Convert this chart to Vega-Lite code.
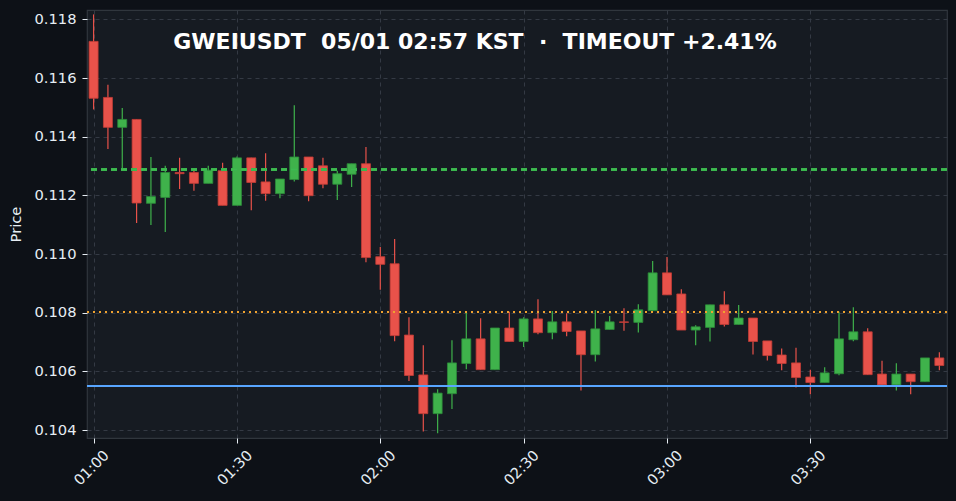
{
  "$schema": "https://vega.github.io/schema/vega-lite/v6.json",
  "width": 860,
  "height": 428,
  "autosize": {"type": "none"},
  "padding": {"left": 87, "top": 10, "right": 9, "bottom": 63},
  "background": "#0d1117",
  "config": {
    "view": {"fill": "#161b22", "stroke": "#30363d", "strokeWidth": 1.2},
    "font": "DejaVu Sans",
    "axis": {
      "labelFont": "DejaVu Sans",
      "labelFontSize": 14.7,
      "labelColor": "#e6edf3",
      "titleFont": "DejaVu Sans",
      "titleFontSize": 14.7,
      "titleFontWeight": "normal",
      "titleColor": "#e6edf3",
      "tickColor": "#e6edf3",
      "tickSize": 5,
      "domain": false,
      "grid": true,
      "gridColor": "#343a44",
      "gridDash": [4, 4],
      "gridWidth": 1
    }
  },
  "title": {
    "text": "GWEIUSDT \u00a005/01 02:57 KST \u00a0·\u00a0 TIMEOUT +2.41%",
    "font": "DejaVu Sans",
    "fontSize": 22,
    "fontWeight": "bold",
    "color": "#ffffff",
    "anchor": "middle",
    "frame": "group",
    "baseline": "top",
    "offset": -44,
    "dx": -42
  },
  "data": {
    "values": [
      {"min": 0, "open": 0.11725, "close": 0.11531, "high": 0.11817, "low": 0.11493},
      {"min": 3, "open": 0.11534, "close": 0.11432, "high": 0.11577, "low": 0.11358},
      {"min": 6, "open": 0.11432, "close": 0.11459, "high": 0.11498, "low": 0.11288},
      {"min": 9, "open": 0.11459, "close": 0.11174, "high": 0.11459, "low": 0.11106},
      {"min": 12, "open": 0.11173, "close": 0.11196, "high": 0.11331, "low": 0.11099},
      {"min": 15, "open": 0.11193, "close": 0.11278, "high": 0.11301, "low": 0.11075},
      {"min": 18, "open": 0.11278, "close": 0.11274, "high": 0.11328, "low": 0.11222},
      {"min": 21, "open": 0.11278, "close": 0.11241, "high": 0.11293, "low": 0.11216},
      {"min": 24, "open": 0.11241, "close": 0.11286, "high": 0.11301, "low": 0.11241},
      {"min": 27, "open": 0.11284, "close": 0.11166, "high": 0.11311, "low": 0.11166},
      {"min": 30, "open": 0.11166, "close": 0.11328, "high": 0.11333, "low": 0.11166},
      {"min": 33, "open": 0.11328, "close": 0.11244, "high": 0.11328, "low": 0.11149},
      {"min": 36, "open": 0.11246, "close": 0.11206, "high": 0.11344, "low": 0.11182},
      {"min": 39, "open": 0.11206, "close": 0.11256, "high": 0.11256, "low": 0.1119},
      {"min": 42, "open": 0.11254, "close": 0.11331, "high": 0.11507, "low": 0.11247},
      {"min": 45, "open": 0.11331, "close": 0.11199, "high": 0.11331, "low": 0.1118},
      {"min": 48, "open": 0.11301, "close": 0.11238, "high": 0.11328, "low": 0.11224},
      {"min": 51, "open": 0.11238, "close": 0.11274, "high": 0.11284, "low": 0.11184},
      {"min": 54, "open": 0.11272, "close": 0.11308, "high": 0.11308, "low": 0.11229},
      {"min": 57, "open": 0.11308, "close": 0.10988, "high": 0.11365, "low": 0.10972},
      {"min": 60, "open": 0.10991, "close": 0.10965, "high": 0.11024, "low": 0.10878},
      {"min": 63, "open": 0.10967, "close": 0.10722, "high": 0.11051, "low": 0.10703},
      {"min": 66, "open": 0.10724, "close": 0.10586, "high": 0.10785, "low": 0.10567},
      {"min": 69, "open": 0.10588, "close": 0.10456, "high": 0.10689, "low": 0.10395},
      {"min": 72, "open": 0.10456, "close": 0.10526, "high": 0.10539, "low": 0.10389},
      {"min": 75, "open": 0.10524, "close": 0.10629, "high": 0.10706, "low": 0.10472},
      {"min": 78, "open": 0.10627, "close": 0.10711, "high": 0.10803, "low": 0.10607},
      {"min": 81, "open": 0.10711, "close": 0.10606, "high": 0.10781, "low": 0.10606},
      {"min": 84, "open": 0.10606, "close": 0.10748, "high": 0.10748, "low": 0.10606},
      {"min": 87, "open": 0.10748, "close": 0.10702, "high": 0.10803, "low": 0.10702},
      {"min": 90, "open": 0.10702, "close": 0.10779, "high": 0.10785, "low": 0.10683},
      {"min": 93, "open": 0.10779, "close": 0.10732, "high": 0.10846, "low": 0.10727},
      {"min": 96, "open": 0.10732, "close": 0.10769, "high": 0.10806, "low": 0.1071},
      {"min": 99, "open": 0.10769, "close": 0.10736, "high": 0.10798, "low": 0.1072},
      {"min": 102, "open": 0.10738, "close": 0.10657, "high": 0.10738, "low": 0.10535},
      {"min": 105, "open": 0.10657, "close": 0.10745, "high": 0.10809, "low": 0.10634},
      {"min": 108, "open": 0.10743, "close": 0.10769, "high": 0.10789, "low": 0.10743},
      {"min": 111, "open": 0.10769, "close": 0.10767, "high": 0.10815, "low": 0.10739},
      {"min": 114, "open": 0.10767, "close": 0.1081, "high": 0.10829, "low": 0.10733},
      {"min": 117, "open": 0.10807, "close": 0.10936, "high": 0.10976, "low": 0.10807},
      {"min": 120, "open": 0.10936, "close": 0.10861, "high": 0.1099, "low": 0.10861},
      {"min": 123, "open": 0.10864, "close": 0.10741, "high": 0.1088, "low": 0.10741},
      {"min": 126, "open": 0.10741, "close": 0.10752, "high": 0.10757, "low": 0.10689},
      {"min": 129, "open": 0.1075, "close": 0.10827, "high": 0.10827, "low": 0.10702},
      {"min": 132, "open": 0.10827, "close": 0.1076, "high": 0.10873, "low": 0.10753},
      {"min": 135, "open": 0.1076, "close": 0.10782, "high": 0.10826, "low": 0.1076},
      {"min": 138, "open": 0.10782, "close": 0.10702, "high": 0.10782, "low": 0.10658},
      {"min": 141, "open": 0.10704, "close": 0.10654, "high": 0.10704, "low": 0.10637},
      {"min": 144, "open": 0.10656, "close": 0.10627, "high": 0.10678, "low": 0.10604},
      {"min": 147, "open": 0.10629, "close": 0.10579, "high": 0.10681, "low": 0.10545},
      {"min": 150, "open": 0.10581, "close": 0.10562, "high": 0.10606, "low": 0.10522},
      {"min": 153, "open": 0.10562, "close": 0.10595, "high": 0.10614, "low": 0.10562},
      {"min": 156, "open": 0.10592, "close": 0.10711, "high": 0.10803, "low": 0.10587},
      {"min": 159, "open": 0.10708, "close": 0.10735, "high": 0.10819, "low": 0.10703},
      {"min": 162, "open": 0.10735, "close": 0.10589, "high": 0.10747, "low": 0.10589},
      {"min": 165, "open": 0.10591, "close": 0.10554, "high": 0.10636, "low": 0.10554},
      {"min": 168, "open": 0.10554, "close": 0.10591, "high": 0.10628, "low": 0.10535},
      {"min": 171, "open": 0.10591, "close": 0.10565, "high": 0.10591, "low": 0.10522},
      {"min": 174, "open": 0.10565, "close": 0.10646, "high": 0.10646, "low": 0.10565},
      {"min": 177, "open": 0.10646, "close": 0.1062, "high": 0.10665, "low": 0.10604}
    ]
  },
  "layer": [
    {
      "mark": {"type": "rule", "strokeWidth": 1.2},
      "encoding": {
        "x": {
          "field": "min",
          "type": "quantitative",
          "title": null,
          "scale": {"domain": [-1.38, 178.6], "zero": false, "nice": false, "padding": 0},
          "axis": {
            "values": [0, 30, 60, 90, 120, 150],
            "labelExpr": "format(floor(datum.value / 60) + 1, '02d') + ':' + format(datum.value % 60, '02d')",
            "labelAngle": -45,
            "labelAlign": "center",
            "labelBaseline": "middle",
            "labelPadding": 25,
            "labelOffset": -2
          }
        },
        "y": {
          "field": "low",
          "type": "quantitative",
          "title": "Price",
          "scale": {"domain": [0.10373, 0.11832], "zero": false, "nice": false},
          "axis": {
            "values": [0.104, 0.106, 0.108, 0.11, 0.112, 0.114, 0.116, 0.118],
            "format": ".3f",
            "labelPadding": 6,
            "titlePadding": 10
          }
        },
        "y2": {"field": "high"},
        "color": {
          "condition": {"test": "datum.close >= datum.open", "value": "#3fb24b"},
          "value": "#e8524a"
        }
      }
    },
    {
      "mark": {"type": "bar", "size": 9, "strokeWidth": 0.8},
      "encoding": {
        "x": {"field": "min", "type": "quantitative"},
        "y": {"field": "open", "type": "quantitative"},
        "y2": {"field": "close"},
        "color": {
          "condition": {"test": "datum.close >= datum.open", "value": "#3fb24b"},
          "value": "#e8524a"
        },
        "stroke": {
          "condition": {"test": "datum.close >= datum.open", "value": "#2c8c3a"},
          "value": "#c23c36"
        }
      }
    },
    {
      "mark": {"type": "rule", "color": "#3fb950", "strokeWidth": 1.5, "strokeDash": [6, 4]},
      "encoding": {"y": {"datum": 0.11288, "type": "quantitative"}}
    },
    {
      "mark": {"type": "rule", "color": "#f0a330", "strokeWidth": 1.6, "strokeDash": [2, 4]},
      "encoding": {"y": {"datum": 0.10803, "type": "quantitative"}}
    },
    {
      "mark": {"type": "rule", "color": "#58a6ff", "strokeWidth": 1.6},
      "encoding": {"y": {"datum": 0.1055, "type": "quantitative"}}
    }
  ]
}
